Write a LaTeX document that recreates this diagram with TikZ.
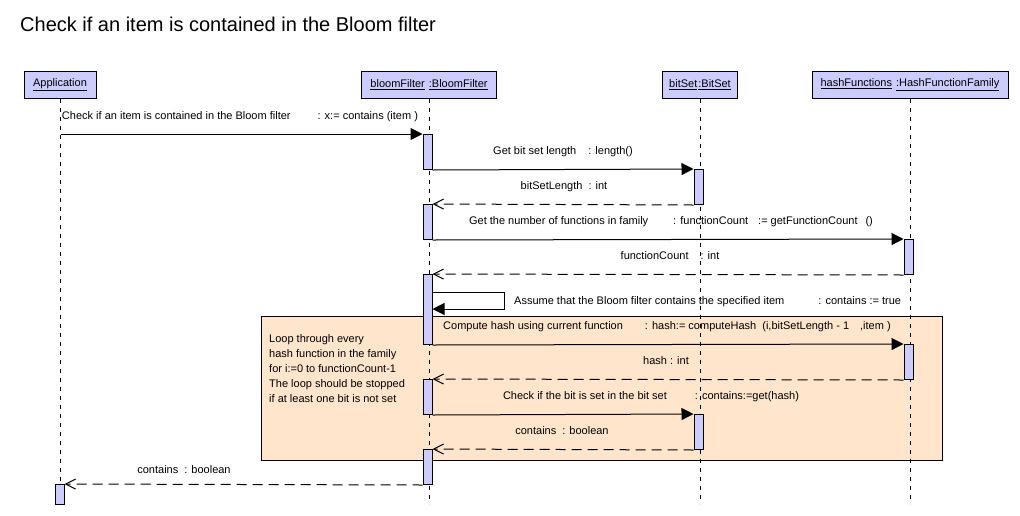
\documentclass[tikz,border=0pt]{standalone}
\usepackage{fontspec}
\setmainfont{Liberation Sans}
\usepackage{tikz}
\usetikzlibrary{arrows.meta, positioning, calc}
\definecolor{objblue}{RGB}{204,204,255}
\definecolor{loopbg}{RGB}{255,229,204}
\tikzstyle{objhead} = [rectangle, draw=black, fill=objblue, line width=1pt, minimum height=27pt, inner sep=0pt]
\tikzstyle{activation} = [rectangle, draw=black, fill=objblue, line width=1pt, minimum width=9pt, inner sep=0pt, anchor=north]
\tikzstyle{lifeline} = [line width=1pt, dash pattern=on 4pt off 5pt]
\tikzstyle{call} = [line width=1pt, -{Triangle[length=12pt,width=12pt]}]
\tikzstyle{reply} = [line width=1pt, dash pattern=on 10pt off 6pt, -{Straight Barb[length=10pt,width=10pt]}]
\tikzstyle{msg} = [inner sep=0pt, anchor=base]
\tikzstyle{loopframe} = [rectangle, draw=black, fill=loopbg, line width=1pt, inner sep=0pt]

\begin{document}
\begin{tikzpicture}[x=1pt, y=-1pt, font=\fontsize{11}{13}\selectfont]
\useasboundingbox (0,0) rectangle (1020,515);

\node [anchor=base west, inner sep=0pt, font=\fontsize{20}{24}\selectfont] (title) at (20,31) {Check if an item is contained in the Bloom filter};

% objects
\node [objhead, minimum width=72pt] (app) at (60,84.5) {\underline{Application}};
\node [objhead, minimum width=135pt] (bloom) at (429,84.5) {\underline{bloomFilter}\hspace{4pt}\underline{:BloomFilter}};
\node [objhead, minimum width=75pt] (bitset) at (700,84.5) {\underline{bitSet}\hspace{1pt}\underline{:BitSet}};
\node [objhead, minimum width=196pt] (hashfn) at (910,84.5) {\underline{hashFunctions}\hspace{4pt}\underline{:HashFunctionFamily}};

% loop fragment
\node [loopframe, minimum width=681pt, minimum height=144pt] (loop) at (601.5,388) {};
\node [anchor=north west, inner sep=0pt, align=left, font=\fontsize{11}{15}\selectfont] (looptxt) at (269,334)
    {Loop through every\\hash function in the family\\for i:=0 to functionCount-1\\The loop should be stopped\\if at least one bit is not set};

% lifelines
\draw [lifeline] (app.south) -- ++(0,405);
\draw [lifeline] (bloom.south) -- ++(0,405);
\draw [lifeline] (bitset.south) -- ++(0,405);
\draw [lifeline] (hashfn.south) -- ++(0,405);

% activations
\node [activation, minimum height=35pt] (bf1) at (427.5,134) {};
\node [activation, minimum height=35pt] (bf2) at (427.5,204) {};
\node [activation, minimum height=70pt] (bf3) at (427.5,274) {};
\node [activation, minimum height=35pt] (bf4) at (427.5,379) {};
\node [activation, minimum height=35pt] (bf5) at (427.5,449) {};
\node [activation, minimum height=35pt] (bs1) at (698.5,169) {};
\node [activation, minimum height=35pt] (bs2) at (698.5,414) {};
\node [activation, minimum height=35pt] (hf1) at (908.5,239) {};
\node [activation, minimum height=35pt] (hf2) at (908.5,344) {};
\node [activation, minimum height=20pt] (ap1) at (59.5,484) {};

% messages
\coordinate (appstart) at (61,134);
\draw [call] (appstart) -- (bf1.north west);
\node [msg] (m1) at (240,119) {Check if an item is contained in the Bloom filter\hspace{27pt}: x:= contains (item )};

\draw [call] (bf1.south east) -- (bs1.north west);
\node [msg] (m2) at (563,154) {Get bit set length\hspace{12pt}: length()};
\draw [reply] (bs1.south west) -- (bf2.north east);
\node [msg] (r2) at (564,189) {bitSetLength\hspace{6pt}: int};

\draw [call] (bf2.south east) -- (hf1.north west);
\node [msg] (m3) at (671,224) {Get the number of functions in family\hspace{25pt}: functionCount\hspace{10pt}:= getFunctionCount\hspace{8pt}()};
\draw [reply] (hf1.south west) -- (bf3.north east);
\node [msg] (r3) at (670,259) {functionCount\hspace{12pt}: int};

\coordinate (selftop) at (504,292);
\coordinate (selfbot) at (504,309);
\draw [call] (bf3.east |- selftop) -- (selftop) -- (selfbot) -- (bf3.east |- selfbot);
\node [msg, anchor=base west] (m4) at (514,304) {Assume that the Bloom filter contains the specified item\hspace{34pt}: contains := true};

\draw [call] (bf3.south east) -- (hf2.north west);
\node [msg] (m5) at (667,329) {Compute hash using current function\hspace{22pt}: hash:= computeHash\hspace{6pt}(i,bitSetLength - 1\hspace{11pt},item )};
\draw [reply] (hf2.south west) -- (bf4.north east);
\node [msg] (r5) at (666,364) {hash : int};

\draw [call] (bf4.south east) -- (bs2.north west);
\node [msg] (m6) at (651,399) {Check if the bit is set in the bit set\hspace{28pt}: contains:=get(hash)};
\draw [reply] (bs2.south west) -- (bf5.north east);
\node [msg] (r6) at (562,434) {contains\hspace{6pt}: boolean};

\draw [reply] (bf5.south west) -- (ap1.north east);
\node [msg] (r1) at (184,473) {contains\hspace{6pt}: boolean};
\end{tikzpicture}
\end{document}
